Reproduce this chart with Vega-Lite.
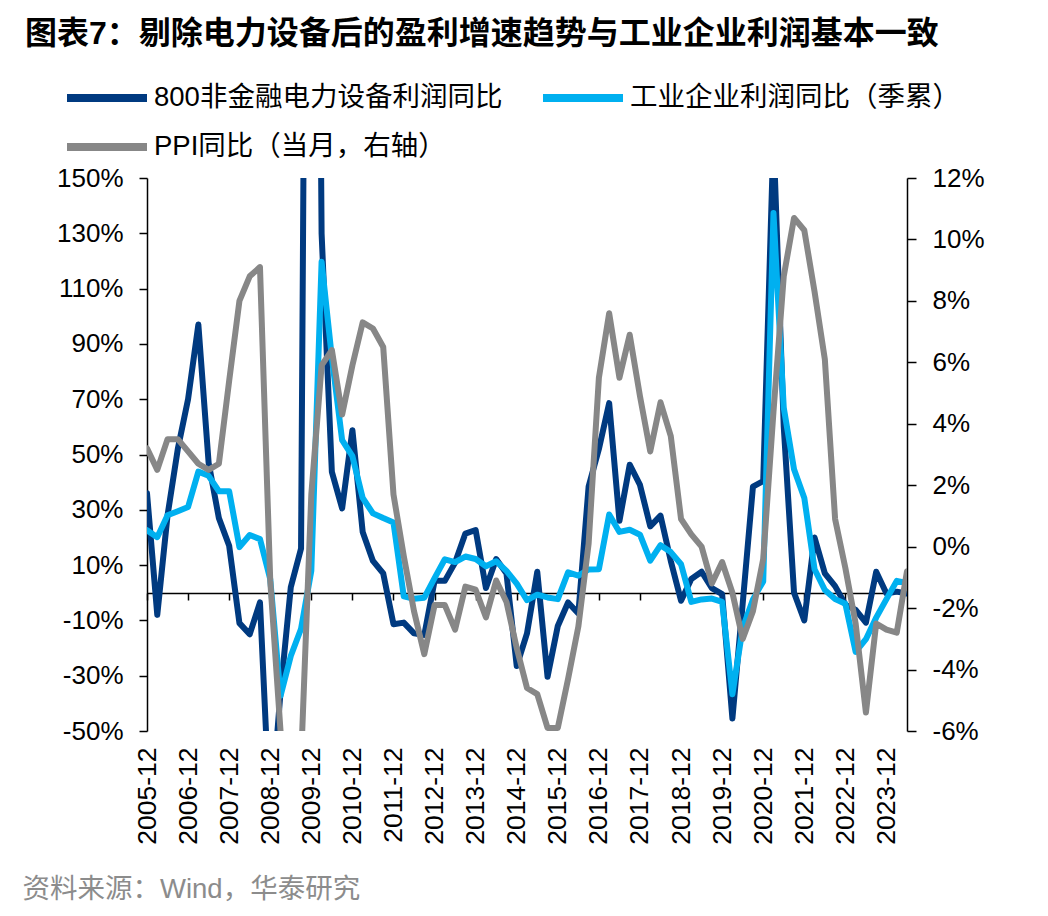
{
  "$schema": "https://vega.github.io/schema/vega-lite/v6.json",
  "width": 760,
  "height": 553,
  "autosize": "none",
  "padding": {"left": 147, "top": 178, "right": 141, "bottom": 185},
  "background": "white",
  "config": {
    "view": {"stroke": null},
    "font": "Liberation Sans, Noto Sans CJK SC",
    "axis": {"grid": false, "domainColor": "#000000", "tickColor": "#000000", "labelColor": "#000000", "labelFont": "Liberation Sans", "labelFontSize": 25, "domainWidth": 1.5, "tickWidth": 1.5}
  },
  "title": {
    "text": "图表7：剔除电力设备后的盈利增速趋势与工业企业利润基本一致",
    "anchor": "start", "frame": "group", "orient": "top",
    "font": "Liberation Sans, Noto Sans CJK SC", "fontSize": 32, "fontWeight": "bold", "color": "#000000",
    "dx": -122, "offset": 33
  },
  "data": {"values": [
    {"q":"2005-12","a":36,"b":22.6,"p":3.2},
    {"q":"2006-03","a":-8,"b":20.1,"p":2.5},
    {"q":"2006-06","a":28,"b":28.0,"p":3.5},
    {"q":"2006-09","a":52,"b":29.5,"p":3.5},
    {"q":"2006-12","a":70,"b":31.0,"p":3.1},
    {"q":"2007-03","a":97,"b":43.8,"p":2.7},
    {"q":"2007-06","a":47,"b":42.3,"p":2.5},
    {"q":"2007-09","a":27,"b":36.7,"p":2.7},
    {"q":"2007-12","a":17,"b":36.7,"p":5.4},
    {"q":"2008-03","a":-11,"b":16.5,"p":8.0},
    {"q":"2008-06","a":-15,"b":20.9,"p":8.8},
    {"q":"2008-09","a":-3.5,"b":19.4,"p":9.1},
    {"q":"2008-12","a":-83,"b":4.9,"p":-1.1},
    {"q":"2009-03","a":-36,"b":-37.3,"p":-6.0},
    {"q":"2009-06","a":2,"b":-22.9,"p":-7.8},
    {"q":"2009-09","a":16,"b":-13,"p":-7.0},
    {"q":"2009-12","a":600,"b":8,"p":1.7},
    {"q":"2010-03","a":130,"b":119.7,"p":5.9},
    {"q":"2010-06","a":43.7,"b":85.0,"p":6.4},
    {"q":"2010-09","a":30.5,"b":55.2,"p":4.3},
    {"q":"2010-12","a":58.8,"b":49.4,"p":5.9},
    {"q":"2011-03","a":22,"b":34.3,"p":7.3},
    {"q":"2011-06","a":11.5,"b":28.7,"p":7.1},
    {"q":"2011-09","a":7,"b":27.0,"p":6.5},
    {"q":"2011-12","a":-11.4,"b":25.4,"p":1.7},
    {"q":"2012-03","a":-10.8,"b":-1.3,"p":-0.3},
    {"q":"2012-06","a":-14.7,"b":-2.2,"p":-2.1},
    {"q":"2012-09","a":-15.3,"b":-1.8,"p":-3.5},
    {"q":"2012-12","a":4.3,"b":5.3,"p":-1.9},
    {"q":"2013-03","a":4.3,"b":12.1,"p":-1.9},
    {"q":"2013-06","a":10.9,"b":11.1,"p":-2.7},
    {"q":"2013-09","a":21.4,"b":13.1,"p":-1.3},
    {"q":"2013-12","a":22.7,"b":12.2,"p":-1.4},
    {"q":"2014-03","a":1.7,"b":9.6,"p":-2.3},
    {"q":"2014-06","a":12.2,"b":11.4,"p":-1.1},
    {"q":"2014-09","a":7,"b":7.9,"p":-1.8},
    {"q":"2014-12","a":-26.5,"b":3.3,"p":-3.3},
    {"q":"2015-03","a":-14.7,"b":-2.7,"p":-4.6},
    {"q":"2015-06","a":7.6,"b":-0.7,"p":-4.8},
    {"q":"2015-09","a":-30.4,"b":-1.7,"p":-5.9},
    {"q":"2015-12","a":-12,"b":-2.3,"p":-5.9},
    {"q":"2016-03","a":-3.5,"b":7.4,"p":-4.3},
    {"q":"2016-06","a":-7.5,"b":6.2,"p":-2.6},
    {"q":"2016-09","a":38.4,"b":8.4,"p":0.1},
    {"q":"2016-12","a":52,"b":8.5,"p":5.5},
    {"q":"2017-03","a":68.6,"b":28.3,"p":7.6},
    {"q":"2017-06","a":26,"b":22.0,"p":5.5},
    {"q":"2017-09","a":46.3,"b":22.8,"p":6.9},
    {"q":"2017-12","a":39,"b":21.0,"p":4.9},
    {"q":"2018-03","a":24,"b":11.6,"p":3.1},
    {"q":"2018-06","a":27.9,"b":17.2,"p":4.7},
    {"q":"2018-09","a":11.5,"b":14.7,"p":3.6},
    {"q":"2018-12","a":-2.9,"b":10.3,"p":0.9},
    {"q":"2019-03","a":5,"b":-3.3,"p":0.4},
    {"q":"2019-06","a":7.6,"b":-2.4,"p":0.0},
    {"q":"2019-09","a":1.7,"b":-2.1,"p":-1.2},
    {"q":"2019-12","a":-0.5,"b":-3.3,"p":-0.5},
    {"q":"2020-03","a":-45.5,"b":-36.7,"p":-1.5},
    {"q":"2020-06","a":-4,"b":-12.8,"p":-3.0},
    {"q":"2020-09","a":38.4,"b":-2.4,"p":-2.1},
    {"q":"2020-12","a":40.4,"b":4.1,"p":-0.4},
    {"q":"2021-03","a":165,"b":137.3,"p":4.4},
    {"q":"2021-06","a":60,"b":66.9,"p":8.8},
    {"q":"2021-09","a":0,"b":44.7,"p":10.7},
    {"q":"2021-12","a":-10,"b":34.3,"p":10.3},
    {"q":"2022-03","a":20,"b":8.5,"p":8.3},
    {"q":"2022-06","a":7,"b":1.0,"p":6.1},
    {"q":"2022-09","a":2.4,"b":-2.3,"p":0.9},
    {"q":"2022-12","a":-4.2,"b":-4.0,"p":-0.7},
    {"q":"2023-03","a":-6.2,"b":-21.4,"p":-2.5},
    {"q":"2023-06","a":-10.8,"b":-16.8,"p":-5.4},
    {"q":"2023-09","a":7.6,"b":-9.0,"p":-2.5},
    {"q":"2023-12","a":-0.3,"b":-2.3,"p":-2.7},
    {"q":"2024-03","a":0.4,"b":4.3,"p":-2.8},
    {"q":"2024-06","a":-0.3,"b":3.5,"p":-0.8}
  ]},
  "encoding": {
    "x": {
      "field": "q", "type": "ordinal", "sort": null,
      "scale": {"type": "point", "padding": 0},
      "axis": {
        "orient": "bottom", "offset": -138,
        "values": ["2005-12","2006-12","2007-12","2008-12","2009-12","2010-12","2011-12","2012-12","2013-12","2014-12","2015-12","2016-12","2017-12","2018-12","2019-12","2020-12","2021-12","2022-12","2023-12"],
        "labelAngle": 270, "labelAlign": "right", "labelBaseline": "middle",
        "tickSize": 7, "labelPadding": 147, "labelFontSize": 26.5, "labelOverlap": false, "labelFlush": false,
        "title": "资料来源：Wind，华泰研究",
        "titleX": -125, "titleY": 296, "titleAlign": "left", "titleBaseline": "middle", "titleAngle": 0,
        "titleFont": "Liberation Sans, Noto Sans CJK SC", "titleFontSize": 27.5, "titleFontWeight": "normal", "titleColor": "#8C8C8C"
      }
    }
  },
  "layer": [
    {
      "layer": [
        {
          "mark": {"type": "line", "strokeWidth": 6, "clip": true, "strokeJoin": "round", "strokeCap": "round"},
          "encoding": {
            "y": {
              "field": "a", "type": "quantitative",
              "scale": {"domain": [-50, 150], "nice": false, "zero": false},
              "axis": {"values": [-50,-30,-10,10,30,50,70,90,110,130,150], "labelExpr": "datum.value + '%'", "tickSize": 8, "labelPadding": 16, "labelFontSize": 26, "title": null}
            },
            "color": {
              "datum": "800非金融电力设备利润同比",
              "scale": {"domain": ["800非金融电力设备利润同比", "工业企业利润同比（季累）", "PPI同比（当月，右轴）"], "range": ["#003A80", "#00B0F0", "#878787"]},
              "legend": {
                "orient": "none", "legendX": -54, "legendY": -94, "direction": "horizontal", "columns": 2,
                "symbolType": "M-4,0H4", "symbolSize": 400, "symbolStrokeWidth": 8,
                "labelFont": "Liberation Sans, Noto Sans CJK SC", "labelFontSize": 27.5, "labelColor": "#000000", "labelLimit": 0,
                "labelOffset": 33, "columnPadding": 24, "rowPadding": 17, "title": null
              }
            }
          }
        },
        {
          "mark": {"type": "line", "strokeWidth": 6, "clip": true, "strokeJoin": "round", "strokeCap": "round"},
          "encoding": {
            "y": {"field": "b", "type": "quantitative", "title": null},
            "color": {"datum": "工业企业利润同比（季累）"}
          }
        }
      ]
    },
    {
      "mark": {"type": "line", "strokeWidth": 6, "clip": true, "strokeJoin": "round", "strokeCap": "round"},
      "encoding": {
        "y": {
          "field": "p", "type": "quantitative",
          "scale": {"domain": [-6, 12], "nice": false, "zero": false},
          "axis": {"orient": "right", "values": [-6,-4,-2,0,2,4,6,8,10,12], "labelExpr": "datum.value + '%'", "tickSize": 9, "labelPadding": 16, "labelFontSize": 26, "title": null}
        },
        "color": {"datum": "PPI同比（当月，右轴）"}
      }
    }
  ],
  "resolve": {"scale": {"y": "independent"}}
}
